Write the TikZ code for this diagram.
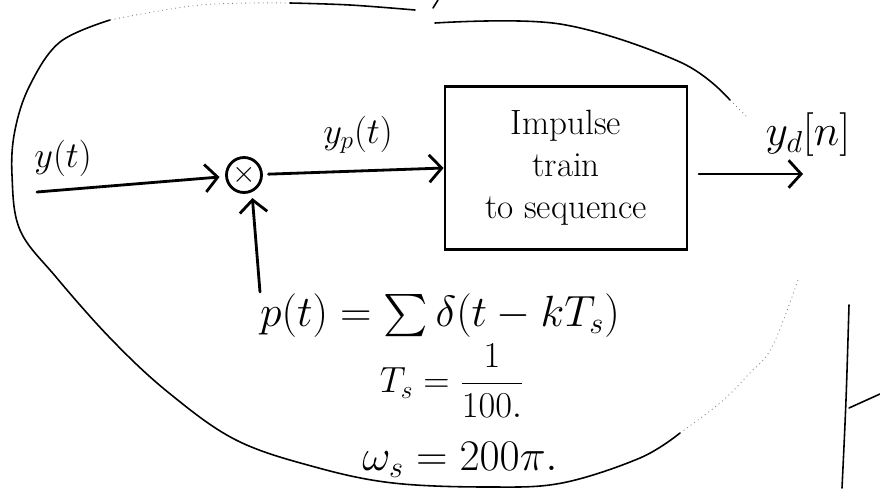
\documentclass[tikz,border=0pt]{standalone}
\usepackage{amsmath,amssymb}
\usetikzlibrary{arrows.meta,positioning}

\begin{document}
\begin{tikzpicture}[
  x=0.02cm, y=-0.02cm,
  pen/.style={line width=1.6pt, line cap=round},
  arr/.style={pen, -{Straight Barb[length=2.5mm,width=5.5mm]}},
  outline/.style={line width=0.9pt, line cap=round},
  faint/.style={line width=0.5pt, gray, dotted},
  mult/.style={draw, circle, pen, minimum size=0.7cm, inner sep=0pt,
    outer sep=4pt, font=\LARGE},
  blockbox/.style={draw, rectangle, pen, minimum width=4.84cm,
    minimum height=3.26cm, align=center, font=\fontsize{20}{24}\selectfont},
  lbl/.style={font=\fontsize{22}{26}\selectfont},
  eq/.style={font=\fontsize{24}{28}\selectfont}
]
  \useasboundingbox (0,0) rectangle (880,488);

  % sketched outline round the system
  \draw[outline] plot[smooth, tension=0.6] coordinates {(415,10) (350,5) (290,3)};
  \draw[faint] plot[smooth, tension=0.6] coordinates {(290,3) (200,5) (110,20)};
  \draw[outline] plot[smooth, tension=0.6] coordinates {(110,20) (60,42) (30,85)
    (15,130) (12,175) (20,230) (56,277) (112,340) (169,393) (236,440)
    (315,467) (393,483) (489,487) (562,483) (640,458) (680,433)};
  \draw[faint] plot[smooth, tension=0.6] coordinates {(680,433) (720,403)
    (748,375) (772,347) (798,280)};
  \draw[outline] (438,0) -- (433,8);
  \draw[outline] plot[smooth, tension=0.6] coordinates {(435,23) (560,24)
    (680,62) (730,100)};
  \draw[faint] (730,100) -- (748,118);
  \draw[outline] plot[smooth, tension=0.6] coordinates {(849,305) (846,400)
    (842,488)};
  \draw[outline] (849,408) -- (880,394);

  % blocks
  \node[mult] (mult) at (244,175) {$\times$};
  \node[blockbox] (conv) at (566,168) {Impulse\\train\\to sequence};
  \coordinate (yin) at (37,192);
  \coordinate (yout) at (803,174);
  \coordinate (psrc) at (260,292);

  % labels
  \node[lbl] (ylab) at (63,158) {$y(t)$};
  \node[lbl] (yplab) at (358,135) {$y_p(t)$};
  \node[lbl, font=\fontsize{26}{30}\selectfont] (ydlab) at (808,135) {$y_d[n]$};
  \node[eq] (peq) at (440,316) {$p(t) = \sum \delta(t-kT_s)$};
  \node[eq, font=\fontsize{21}{25}\selectfont] (tseq) at (452,381) {$T_s = \dfrac{1}{100.}$};
  \node[eq] (wseq) at (460,460) {$\omega_s = 200\pi.$};

  \draw[arr] (yin) -- (mult);
  \draw[arr] (mult) -- (conv.west);
  \draw[arr, shorten <=6pt] (conv.east |- yout) -- (yout);
  \draw[arr] (psrc) -- (mult.-70);
\end{tikzpicture}
\end{document}
